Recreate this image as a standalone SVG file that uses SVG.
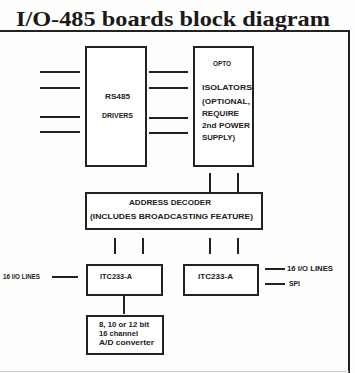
<svg xmlns="http://www.w3.org/2000/svg" width="355" height="373" viewBox="0 0 355 373">
<style>
.box{fill:#fff;stroke:#222;stroke-width:2}
.ln{stroke:#222;stroke-width:2;fill:none}
.t{font-family:"Liberation Sans",Arial,sans-serif;font-weight:bold;font-size:6.5px;fill:#222}
.title{font-family:"Liberation Serif","Times New Roman",serif;font-weight:bold;font-size:21px;fill:#1a1a1a}
</style>
<rect width="355" height="373" fill="#fefefd"/>
<text class="title" x="16" y="26" textLength="314" lengthAdjust="spacingAndGlyphs">I/O-485 boards block diagram</text>
<g id="frame">
<path class="ln" d="M0 31 H349 V373"/>
<path d="M0 371.5 H349" stroke="#ccc" stroke-width="1"/>
</g>
<g id="connectors">
<path class="ln" d="M40 72 H80 M40 88 H80 M40 117 H80 M40 132 H80"/>
<path class="ln" d="M149 72 H188 M149 88 H188 M149 118 H188 M149 133 H188"/>
<path class="ln" d="M210 173 V192 M238 173 V192"/>
<path class="ln" d="M115 238 V254 M143 238 V254 M210 238 V254 M238 238 V254"/>
<path class="ln" d="M52 277 H78"/>
<path class="ln" d="M265 269 H285 M265 284 H285"/>
<path class="ln" d="M124 295 V314"/>
</g>
<g id="rs485">
<rect class="box" x="86" y="47" width="60" height="119"/>
<text class="t" x="105" y="99" textLength="25" lengthAdjust="spacingAndGlyphs">RS485</text>
<text class="t" x="102" y="118" textLength="31" lengthAdjust="spacingAndGlyphs">DRIVERS</text>
</g>
<g id="opto">
<rect class="box" x="194" y="47" width="59" height="119"/>
<text class="t" x="213" y="66" textLength="18" lengthAdjust="spacingAndGlyphs">OPTO</text>
<text class="t" x="202" y="90" textLength="50" lengthAdjust="spacingAndGlyphs">ISOLATORS</text>
<text class="t" x="202" y="104" textLength="48" lengthAdjust="spacingAndGlyphs">(OPTIONAL,</text>
<text class="t" x="202" y="116" textLength="37" lengthAdjust="spacingAndGlyphs">REQUIRE</text>
<text class="t" x="202" y="128" textLength="48" lengthAdjust="spacingAndGlyphs">2nd POWER</text>
<text class="t" x="202" y="140" textLength="33" lengthAdjust="spacingAndGlyphs">SUPPLY)</text>
</g>
<g id="decoder">
<rect class="box" x="86" y="193" width="176" height="36"/>
<text class="t" x="129" y="205" textLength="82" lengthAdjust="spacingAndGlyphs">ADDRESS DECODER</text>
<text class="t" x="90" y="219" textLength="163" lengthAdjust="spacingAndGlyphs">(INCLUDES BROADCASTING FEATURE)</text>
</g>
<g id="itc-left">
<rect class="box" x="87" y="265" width="75" height="30"/>
<text class="t" x="100" y="279" textLength="32" lengthAdjust="spacingAndGlyphs">ITC233-A</text>
</g>
<g id="itc-right">
<rect class="box" x="184" y="265" width="74" height="30"/>
<text class="t" x="198" y="279" textLength="35" lengthAdjust="spacingAndGlyphs">ITC233-A</text>
</g>
<g id="adc">
<rect class="box" x="87" y="316" width="76" height="38"/>
<text class="t" x="99" y="327" textLength="50" lengthAdjust="spacingAndGlyphs">8, 10 or 12 bit</text>
<text class="t" x="99" y="336" textLength="39" lengthAdjust="spacingAndGlyphs">16 channel</text>
<text class="t" x="99" y="345" textLength="55" lengthAdjust="spacingAndGlyphs">A/D converter</text>
</g>
<g id="labels">
<text class="t" x="3" y="279" textLength="37" lengthAdjust="spacingAndGlyphs">16 I/O LINES</text>
<text class="t" x="287" y="271" textLength="46" lengthAdjust="spacingAndGlyphs">16 I/O LINES</text>
<text class="t" x="289" y="286" textLength="11" lengthAdjust="spacingAndGlyphs">SPI</text>
</g>
</svg>
